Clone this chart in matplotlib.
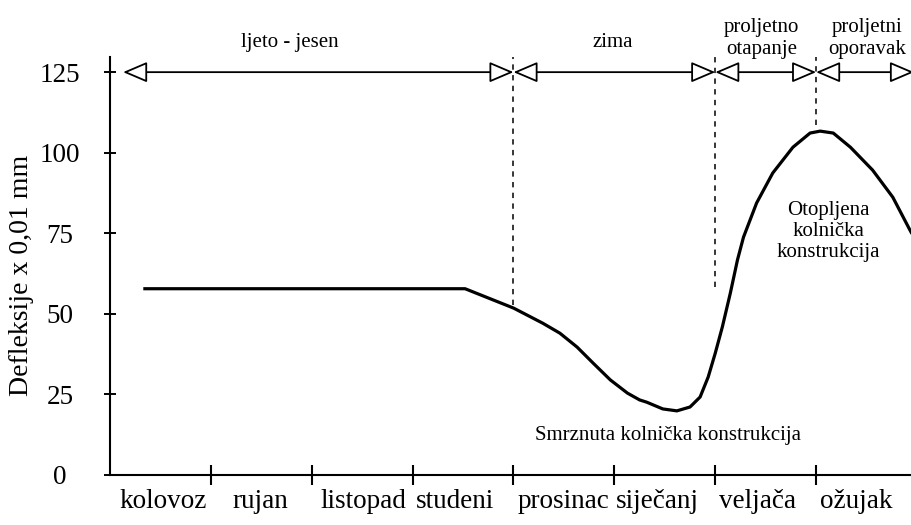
import numpy as np
import matplotlib
matplotlib.use("Agg")
import matplotlib.pyplot as plt

plt.rcParams['font.family'] = ['Liberation Serif', 'DejaVu Serif']

# months on the x axis (one unit per month, from start of kolovoz)
months = ['kolovoz', 'rujan', 'listopad', 'studeni', 'prosinac', 'siječanj', 'veljača', 'ožujak']
month_pos = [0.53, 1.49, 2.51, 3.42, 4.50, 5.43, 6.42, 7.40]

# deflection curve
x_def = [0.33, 3.52, 3.80, 4.00, 4.29, 4.46, 4.63, 4.79, 4.96, 5.13, 5.25,
         5.32, 5.48, 5.62, 5.75, 5.85, 5.93, 6.00, 6.07, 6.15, 6.22, 6.28,
         6.41, 6.57, 6.77, 6.94, 7.04, 7.17, 7.34, 7.56, 7.76, 7.93, 8.0]
y_def = [57.8, 57.8, 54.3, 51.8, 47.1, 44.0, 39.7, 34.7, 29.5, 25.4, 23.3,
         22.6, 20.5, 19.9, 21.1, 24.2, 30.4, 37.8, 45.9, 56.5, 66.7, 73.8,
         84.4, 93.7, 101.7, 106.1, 106.7, 106.1, 101.7, 94.6, 86.2, 76.0, 72.0]

# season periods
periods = ['ljeto - jesen', 'zima', 'proljetno\notapanje', 'proljetni\noporavak']
period_start = [0.13, 4.0, 6.0, 7.0]
period_end = [4.0, 6.0, 7.0, 7.97]
label_x = [1.78, 4.98, 6.46, 7.51]

# dashed borders: x, bottom
borders_x = [4.0, 6.0, 7.0]
borders_lo = [52.7, 58.3, 108.5]

fig = plt.figure(figsize=(9.12, 5.25), dpi=100)
ax = fig.add_axes([110/912, 50/525, 807/912, 418/525])
ax.set_xlim(0, 8)
ax.set_ylim(0, 129.7)

ax.plot(x_def, y_def, color='black', lw=2.3, solid_joinstyle='round',
        solid_capstyle='butt')

for xb, lo in zip(borders_x, borders_lo):
    ax.plot([xb, xb], [lo, 129.7], color='black', lw=1.1, ls=(0, (3.5, 3.5)),
            clip_on=False)

for name, a, b, lx in zip(periods, period_start, period_end, label_x):
    ax.annotate('', xy=(a, 125), xytext=(b, 125),
                arrowprops=dict(arrowstyle='<|-|>,head_length=0.75,head_width=0.32',
                                mutation_scale=20, fc='white', ec='black', lw=1.3,
                                shrinkA=0, shrinkB=0),
                annotation_clip=False)
    ax.text(lx, 135.5 if '\n' in name else 134.3, name, ha='center', va='center',
            fontsize=15, linespacing=1.2, clip_on=False)

ax.text(5.53, 12.4, 'Smrznuta kolnička konstrukcija', ha='center', va='center', fontsize=15)
ax.text(7.12, 75.5, 'Otopljena\nkolnička\nkonstrukcija', ha='center', va='center',
        fontsize=15, linespacing=1.12)

for s in ['top', 'right']:
    ax.spines[s].set_visible(False)
for s in ['left', 'bottom']:
    ax.spines[s].set_linewidth(1.5)

ax.set_yticks([0, 25, 50, 75, 100, 125])
ax.tick_params(axis='y', direction='inout', length=8.6, width=1.4, labelsize=19.5, pad=31.7)
for t in ax.get_yticklabels():
    t.set_ha('center')

ax.set_xticks(range(1, 8))
ax.set_xticklabels([])
ax.tick_params(axis='x', which='major', direction='inout', length=14.4, width=1.5)
ax.set_xticks(month_pos, minor=True)
ax.set_xticklabels(months, minor=True)
ax.tick_params(axis='x', which='minor', length=0, labelsize=19.5, pad=10)

fig.text(22/912, 1 - 275/525, 'Defleksije x 0,01 mm', rotation=90,
         ha='center', va='center', fontsize=20)

fig.savefig('out.png', dpi=100)
